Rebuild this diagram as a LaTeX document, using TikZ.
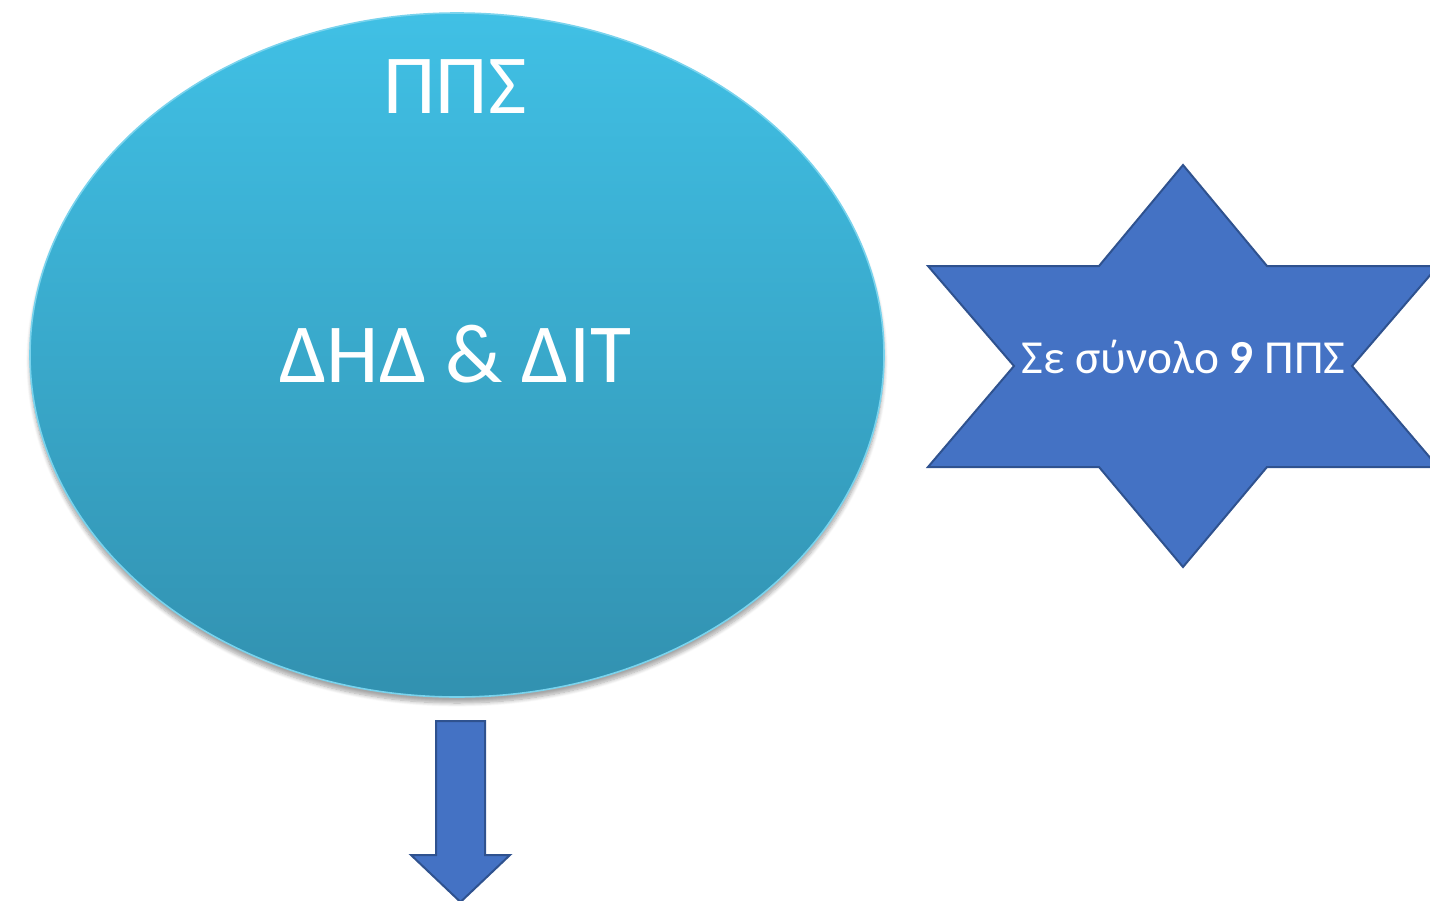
\documentclass[tikz,border=0pt]{standalone}
\usepackage{fontspec}
\setmainfont{Carlito}
\usetikzlibrary{shapes.geometric, shadows.blur}
\definecolor{ovalTop}{HTML}{40C0E5}
\definecolor{ovalBottom}{HTML}{3291B0}
\definecolor{starFill}{HTML}{4472C4}
\definecolor{starLine}{HTML}{2F528F}
\begin{document}
\begin{tikzpicture}[x=0.5pt, y=-0.5pt,
                    ovalStyle/.style={ellipse, minimum width=427pt, minimum height=342pt, inner sep=0pt,
                                      top color=ovalTop, bottom color=ovalBottom, draw=ovalTop!70!white, line width=0.8pt,
                                      blur shadow={shadow xshift=0pt, shadow yshift=-3pt, shadow blur steps=8, shadow opacity=35}},
                    bigText/.style={text=white, font=\fontsize{42}{46}\selectfont, anchor=base, inner sep=0pt},
                    starText/.style={text=white, font=\fontsize{23.7}{28}\selectfont, anchor=base, inner sep=0pt},
                    blockStyle/.style={fill=starFill, draw=starLine, line width=1pt, line join=miter}]
                    \useasboundingbox (0, 0) rectangle (1430, 900);
                    \clip (0, 0) rectangle (1430, 900);

                    \node[ovalStyle](pps) at (457, 355) {};
                    \node[bigText](ppsTitle) at (455, 113) {ΠΠΣ};
                    \node[bigText](ppsName) at (455.5, 382) {ΔΗΔ \& ΔΙΤ};

                    % hexagram
                    \draw[blockStyle] (1183, 165) -- (1267, 266) -- (1438, 266) -- (1352, 366)
                                   -- (1438, 467) -- (1267, 467) -- (1183, 567) -- (1099, 467)
                                   -- (928, 467) -- (1014, 366) -- (928, 266) -- (1099, 266) -- cycle;
                    \node[starText](total) at (1183.5, 373) {Σε σύνολο \textbf{9} ΠΠΣ};

                    % block arrow
                    \coordinate (tip) at (460.5, 902);
                    \draw[blockStyle] (436, 721) -- (485, 721) -- (485, 855) -- (510, 855)
                                   -- (tip) -- (411, 855) -- (436, 855) -- cycle;
                \end{tikzpicture}
\end{document}
